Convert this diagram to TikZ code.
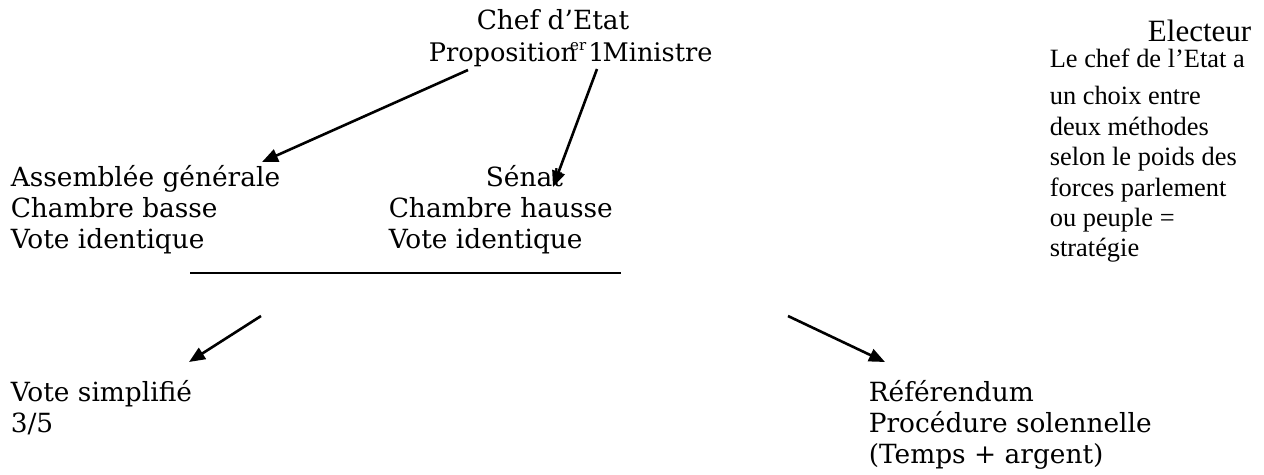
\documentclass[tikz,border=0pt]{standalone}
\usepackage{fontspec}
\setmainfont{DejaVu Serif}
\newfontfamily\timesfont[Ligatures=TeX]{Liberation Serif}
\usetikzlibrary{arrows.meta}

\begin{document}
\begin{tikzpicture}[x=0.5pt,y=-0.5pt,
					thick,
					main text/.style={inner sep=0pt,align=left,
						font=\fontsize{13.2}{15.5}\selectfont},
					side text/.style={inner sep=0pt,align=left,
						font=\timesfont\fontsize{13.2}{15.2}\selectfont},
					main arrow/.style={-{Triangle[length=8pt,width=6.5pt]},line width=1.3pt}]

  \useasboundingbox (0,0) rectangle (1264,475);

  % head of the diagram (multi-line nodes sit on their last line)
  \node[main text,anchor=base] (chef) at (553,30) {Chef d'Etat};
  \node[main text,anchor=base west,font=\fontsize{12.8}{15.5}\selectfont] (prop) at (428,62)
    {Proposition\llap{\raisebox{.45em}{\fontsize{7.5}{8}\selectfont er}\kern-4.5pt} \kern1.5pt1\kern-1pt Ministre};

  \node[anchor=base east,inner sep=0pt,font=\timesfont\fontsize{15.5}{18}\selectfont]
    (electeur) at (1252,42) {Electeur};
  \node[side text,anchor=base west] (choix) at (1049,257)
    {Le chef de l'Etat a\\[3.5pt]
     un choix entre\\
     deux méthodes\\
     selon le poids des\\
     forces parlement\\
     ou peuple =\\
     stratégie};

  % the two chambers
  \node[main text,anchor=base west] (assemblee) at (10,249)
    {Assemblée générale\\Chambre basse\\Vote identique};
  \node[main text,anchor=base west] (senat) at (388,249)
    {\hspace*{48.5pt}Sénat\\Chambre hausse\\Vote identique};

  % the two outcomes
  \node[main text,anchor=base west] (simple) at (10,433)
    {Vote simplifié\\3/5};
  \node[main text,anchor=base west] (referendum) at (868,464)
    {Référendum\\Procédure solennelle\\(Temps + argent)};

  % end points of the connectors
  \coordinate (a1) at (468,70);
  \coordinate (a2) at (262,162);
  \coordinate (b1) at (597,69);
  \coordinate (b2) at (553,187);
  \coordinate (l1) at (190,273);
  \coordinate (l2) at (621,273);
  \coordinate (c1) at (261,316);
  \coordinate (c2) at (189,362);
  \coordinate (d1) at (788,316);
  \coordinate (d2) at (885,362);

  \draw[main arrow] (a1) -- (a2);
  \draw[main arrow] (b1) -- (b2);
  \draw[line width=1pt] (l1) -- (l2);
  \draw[main arrow] (c1) -- (c2);
  \draw[main arrow] (d1) -- (d2);
\end{tikzpicture}
\end{document}
